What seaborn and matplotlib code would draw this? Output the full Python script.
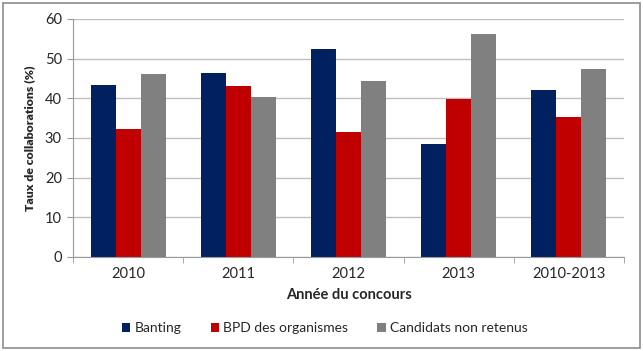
#!/usr/bin/env python3

import pandas as pd
import matplotlib.pyplot as plt
import seaborn as sns
from matplotlib.patches import Rectangle

years = ["2010", "2011", "2012", "2013", "2010-2013"]
banting = [43.4, 46.3, 52.4, 28.4, 42.2]
bpd = [32.2, 43.1, 31.5, 39.8, 35.4]
candidats = [46.0, 40.3, 44.3, 56.1, 47.3]
series = ["Banting", "BPD des organismes", "Candidats non retenus"]
colors = ["#002060", "#C00000", "#808080"]

df = pd.DataFrame(
    {
        "annee": years * 3,
        "taux": banting + bpd + candidats,
        "groupe": [s for s in series for _ in years],
    }
)

sns.set_style("white")
plt.rcParams["font.family"] = ["Lato", "DejaVu Sans"]

fig = plt.figure(figsize=(6.43, 3.51), dpi=100)
ax = fig.add_axes([0.1135, 0.268, 0.857, 0.678])

sns.barplot(
    df,
    x="annee",
    y="taux",
    hue="groupe",
    palette=colors,
    width=0.68,
    gap=0,
    saturation=1,
    linewidth=0,
    ax=ax,
)

ax.set_ylim(0, 60)
ax.set_xlim(-0.5, len(years) - 0.5)
ax.set_yticks(range(0, 61, 10))
ax.yaxis.grid(True, color="#bfbfbf", linewidth=1)
ax.set_axisbelow(True)
for s in ["top", "right"]:
    ax.spines[s].set_visible(False)
for s in ["left", "bottom"]:
    ax.spines[s].set_color("#9a9a9a")
ax.tick_params(axis="x", length=0, labelsize=10.5, pad=7)
ax.tick_params(axis="y", left=True, length=4, color="#9a9a9a", labelsize=10.5, pad=4)
ax.set_xticks([i + 0.5 for i in range(-1, len(years))], minor=True)
ax.tick_params(axis="x", which="minor", bottom=True, length=4, color="#9a9a9a")

ax.set_xlabel("Année du concours", fontsize=10.5, fontweight="bold", labelpad=5)
ax.set_ylabel("Taux de collaborations (%)", fontsize=8.8, fontweight="heavy", labelpad=7)

ax.legend(
    loc="center",
    bbox_to_anchor=(0.505, 0.065),
    bbox_transform=fig.transFigure,
    ncol=3,
    frameon=False,
    fontsize=10,
    handlelength=0.6,
    handleheight=0.6,
    handletextpad=0.3,
    columnspacing=2.1,
)

fig.patches.append(
    Rectangle(
        (0.004, 0.008), 0.992, 0.984,
        transform=fig.transFigure, fill=False,
        edgecolor="#8c8c8c", linewidth=1.2,
    )
)

plt.savefig("out.png", dpi=100)
